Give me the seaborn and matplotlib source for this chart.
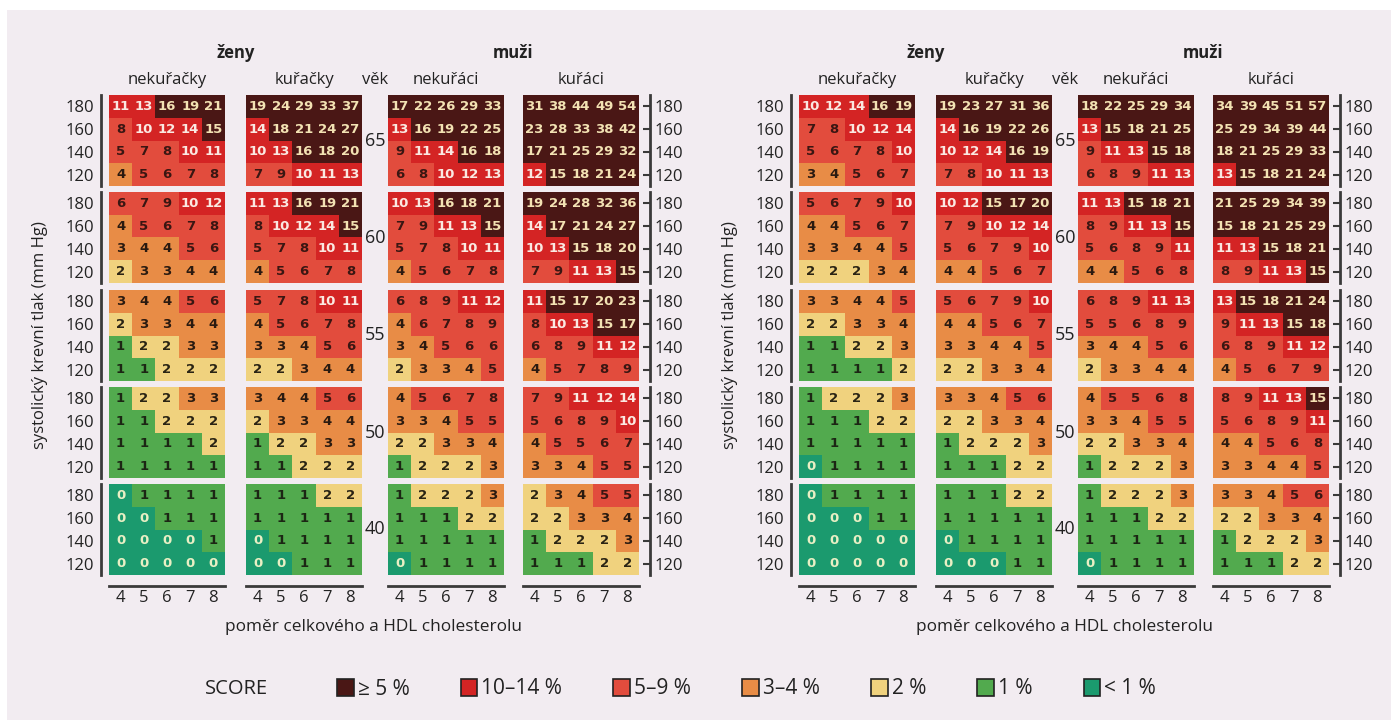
import matplotlib
matplotlib.use('Agg')
import matplotlib.pyplot as plt
from matplotlib.colors import ListedColormap, BoundaryNorm
from matplotlib.patches import Patch, Rectangle
import numpy as np
import pandas as pd
import seaborn as sns

# ---- data (rows: age 65, 60, 55, 50, 40 x systolic 180, 160, 140, 120) ----
ages = [65, 60, 55, 50, 40]
bp_labels = [180, 160, 140, 120]
ratio_labels = [4, 5, 6, 7, 8]
groups = ['nekuřačky', 'kuřačky', 'nekuřáci', 'kuřáci']

left_f_ns = [
    [11, 13, 16, 19, 21], [8, 10, 12, 14, 15], [5, 7, 8, 10, 11], [4, 5, 6, 7, 8],
    [6, 7, 9, 10, 12], [4, 5, 6, 7, 8], [3, 4, 4, 5, 6], [2, 3, 3, 4, 4],
    [3, 4, 4, 5, 6], [2, 3, 3, 4, 4], [1, 2, 2, 3, 3], [1, 1, 2, 2, 2],
    [1, 2, 2, 3, 3], [1, 1, 2, 2, 2], [1, 1, 1, 1, 2], [1, 1, 1, 1, 1],
    [0, 1, 1, 1, 1], [0, 0, 1, 1, 1], [0, 0, 0, 0, 1], [0, 0, 0, 0, 0],
]
left_f_s = [
    [19, 24, 29, 33, 37], [14, 18, 21, 24, 27], [10, 13, 16, 18, 20], [7, 9, 10, 11, 13],
    [11, 13, 16, 19, 21], [8, 10, 12, 14, 15], [5, 7, 8, 10, 11], [4, 5, 6, 7, 8],
    [5, 7, 8, 10, 11], [4, 5, 6, 7, 8], [3, 3, 4, 5, 6], [2, 2, 3, 4, 4],
    [3, 4, 4, 5, 6], [2, 3, 3, 4, 4], [1, 2, 2, 3, 3], [1, 1, 2, 2, 2],
    [1, 1, 1, 2, 2], [1, 1, 1, 1, 1], [0, 1, 1, 1, 1], [0, 0, 1, 1, 1],
]
left_m_ns = [
    [17, 22, 26, 29, 33], [13, 16, 19, 22, 25], [9, 11, 14, 16, 18], [6, 8, 10, 12, 13],
    [10, 13, 16, 18, 21], [7, 9, 11, 13, 15], [5, 7, 8, 10, 11], [4, 5, 6, 7, 8],
    [6, 8, 9, 11, 12], [4, 6, 7, 8, 9], [3, 4, 5, 6, 6], [2, 3, 3, 4, 5],
    [4, 5, 6, 7, 8], [3, 3, 4, 5, 5], [2, 2, 3, 3, 4], [1, 2, 2, 2, 3],
    [1, 2, 2, 2, 3], [1, 1, 1, 2, 2], [1, 1, 1, 1, 1], [0, 1, 1, 1, 1],
]
left_m_s = [
    [31, 38, 44, 49, 54], [23, 28, 33, 38, 42], [17, 21, 25, 29, 32], [12, 15, 18, 21, 24],
    [19, 24, 28, 32, 36], [14, 17, 21, 24, 27], [10, 13, 15, 18, 20], [7, 9, 11, 13, 15],
    [11, 15, 17, 20, 23], [8, 10, 13, 15, 17], [6, 8, 9, 11, 12], [4, 5, 7, 8, 9],
    [7, 9, 11, 12, 14], [5, 6, 8, 9, 10], [4, 5, 5, 6, 7], [3, 3, 4, 5, 5],
    [2, 3, 4, 5, 5], [2, 2, 3, 3, 4], [1, 2, 2, 2, 3], [1, 1, 1, 2, 2],
]

right_f_ns = [
    [10, 12, 14, 16, 19], [7, 8, 10, 12, 14], [5, 6, 7, 8, 10], [3, 4, 5, 6, 7],
    [5, 6, 7, 9, 10], [4, 4, 5, 6, 7], [3, 3, 4, 4, 5], [2, 2, 2, 3, 4],
    [3, 3, 4, 4, 5], [2, 2, 3, 3, 4], [1, 1, 2, 2, 3], [1, 1, 1, 1, 2],
    [1, 2, 2, 2, 3], [1, 1, 1, 2, 2], [1, 1, 1, 1, 1], [0, 1, 1, 1, 1],
    [0, 1, 1, 1, 1], [0, 0, 0, 1, 1], [0, 0, 0, 0, 0], [0, 0, 0, 0, 0],
]
right_f_s = [
    [19, 23, 27, 31, 36], [14, 16, 19, 22, 26], [10, 12, 14, 16, 19], [7, 8, 10, 11, 13],
    [10, 12, 15, 17, 20], [7, 9, 10, 12, 14], [5, 6, 7, 9, 10], [4, 4, 5, 6, 7],
    [5, 6, 7, 9, 10], [4, 4, 5, 6, 7], [3, 3, 4, 4, 5], [2, 2, 3, 3, 4],
    [3, 3, 4, 5, 6], [2, 2, 3, 3, 4], [1, 2, 2, 2, 3], [1, 1, 1, 2, 2],
    [1, 1, 1, 2, 2], [1, 1, 1, 1, 1], [0, 1, 1, 1, 1], [0, 0, 0, 1, 1],
]
right_m_ns = [
    [18, 22, 25, 29, 34], [13, 15, 18, 21, 25], [9, 11, 13, 15, 18], [6, 8, 9, 11, 13],
    [11, 13, 15, 18, 21], [8, 9, 11, 13, 15], [5, 6, 8, 9, 11], [4, 4, 5, 6, 8],
    [6, 8, 9, 11, 13], [5, 5, 6, 8, 9], [3, 4, 4, 5, 6], [2, 3, 3, 4, 4],
    [4, 5, 5, 6, 8], [3, 3, 4, 5, 5], [2, 2, 3, 3, 4], [1, 2, 2, 2, 3],
    [1, 2, 2, 2, 3], [1, 1, 1, 2, 2], [1, 1, 1, 1, 1], [0, 1, 1, 1, 1],
]
right_m_s = [
    [34, 39, 45, 51, 57], [25, 29, 34, 39, 44], [18, 21, 25, 29, 33], [13, 15, 18, 21, 24],
    [21, 25, 29, 34, 39], [15, 18, 21, 25, 29], [11, 13, 15, 18, 21], [8, 9, 11, 13, 15],
    [13, 15, 18, 21, 24], [9, 11, 13, 15, 18], [6, 8, 9, 11, 12], [4, 5, 6, 7, 9],
    [8, 9, 11, 13, 15], [5, 6, 8, 9, 11], [4, 4, 5, 6, 8], [3, 3, 4, 4, 5],
    [3, 3, 4, 5, 6], [2, 2, 3, 3, 4], [1, 2, 2, 2, 3], [1, 1, 1, 2, 2],
]

legend_labels = ['≥ 5 %', '10–14 %', '5–9 %', '3–4 %', '2 %', '1 %', '< 1 %']

# ---- style ----
# order: <1, 1, 2, 3-4, 5-9, 10-14, >=15
cell_colors = ['#1b9a6e', '#52aa4e', '#f0d27e', '#e88c46', '#e24c3d', '#d42424', '#4a1715']
text_colors = ['#e9efc4', '#1c2614', '#2a2414', '#2a1a10', '#3a1612', '#fbe9e2', '#f3e2b3']
bounds = [-0.5, 0.5, 1.5, 2.5, 4.5, 9.5, 14.5, 100]
cmap = ListedColormap(cell_colors)
norm = BoundaryNorm(bounds, cmap.N)
BG = '#f2ecf1'
AX = '#3a3a3a'

sns.set_style('white')
plt.rcParams['font.family'] = ['Open Sans', 'DejaVu Sans']

W, H = 1391, 720
fig = plt.figure(figsize=(W / 100, H / 100), dpi=100, facecolor='white')
fig.patches.append(Rectangle((7 / W, 0), 1, 1 - 10 / H, transform=fig.transFigure,
                             facecolor=BG, edgecolor='none', zorder=-10))


def px_axes(x, y, w, h):
    return fig.add_axes([x / W, 1 - (y + h) / H, w / W, h / H])


def category(v):
    return int(np.searchsorted(bounds, v) - 1)


row_tops = [95, 192, 290, 387, 484]
pw, ph = 116, 91

charts = [
    ([left_f_ns, left_f_s, left_m_ns, left_m_s], [109, 246, 388, 523], 40),
    ([right_f_ns, right_f_s, right_m_ns, right_m_s], [799, 936, 1078, 1213], 730),
]

for data, xl, ylab_x in charts:
    for a, age in enumerate(ages):
        top = row_tops[a]
        for g in range(4):
            ax = px_axes(xl[g], top, pw, ph)
            block = np.array(data[g][a * 4:(a + 1) * 4])
            df = pd.DataFrame(block, index=bp_labels, columns=ratio_labels)
            sns.heatmap(df, ax=ax, cmap=cmap, norm=norm, cbar=False, annot=True, fmt='d',
                        annot_kws={'fontsize': 9.5, 'fontweight': 'bold', 'family': 'DejaVu Sans'},
                        xticklabels=True, yticklabels=True)
            for t in ax.texts:
                t.set_color(text_colors[category(int(t.get_text()))])
            ax.set_xlabel('')
            ax.set_ylabel('')
            for s in ax.spines.values():
                s.set_visible(False)

            # y axis
            if g == 0:
                ax.spines['left'].set_visible(True)
                ax.spines['left'].set_position(('outward', 6))
                ax.spines['left'].set_linewidth(2)
                ax.spines['left'].set_color(AX)
                ax.set_yticklabels(bp_labels, rotation=0)
                ax.tick_params(axis='y', direction='in', length=5, width=1.5, color=AX,
                               labelsize=12, labelcolor='#222222', pad=5)
            elif g == 3:
                ax.spines['right'].set_visible(True)
                ax.spines['right'].set_position(('outward', 8))
                ax.spines['right'].set_linewidth(2)
                ax.spines['right'].set_color(AX)
                ax.yaxis.tick_right()
                ax.set_yticklabels(bp_labels, rotation=0)
                ax.tick_params(axis='y', direction='in', length=5, width=1.5, color=AX,
                               labelsize=12, labelcolor='#222222', pad=3)
            else:
                ax.tick_params(axis='y', left=False, labelleft=False)

            # x axis
            if a == len(ages) - 1:
                ax.spines['bottom'].set_visible(True)
                ax.spines['bottom'].set_position(('outward', 8))
                ax.spines['bottom'].set_linewidth(2)
                ax.spines['bottom'].set_color(AX)
                ax.set_xticklabels(ratio_labels, rotation=0)
                ax.tick_params(axis='x', direction='in', length=5, width=1.5, color=AX,
                               labelsize=12, labelcolor='#222222', pad=3)
            else:
                ax.tick_params(axis='x', bottom=False, labelbottom=False)

        # age label between women and men
        age_x = (xl[1] + pw + xl[2]) / 2
        fig.text(age_x / W, 1 - (top + ph / 2) / H, str(age), ha='center', va='center',
                 fontsize=13, color='#222222')

    # headers
    mid = [x + pw / 2 for x in xl]
    for g in range(4):
        fig.text(mid[g] / W, 1 - 80 / H, groups[g], ha='center', va='center',
                 fontsize=12, color='#222222')
    fig.text((xl[1] + pw + xl[2]) / 2 / W, 1 - 80 / H, 'věk', ha='center', va='center',
             fontsize=12, color='#222222')
    fig.text((xl[0] + xl[1] + pw) / 2 / W, 1 - 53 / H, 'ženy', ha='center', va='center',
             fontsize=12, fontweight='bold', color='#222222')
    fig.text((xl[2] + xl[3] + pw) / 2 / W, 1 - 53 / H, 'muži', ha='center', va='center',
             fontsize=12, fontweight='bold', color='#222222')
    fig.text(ylab_x / W, 1 - 335 / H, 'systolický krevní tlak (mm Hg)', rotation=90,
             ha='center', va='center', fontsize=12, color='#222222')
    fig.text((xl[0] + xl[3] + pw) / 2 / W, 1 - 627 / H, 'poměr celkového a HDL cholesterolu',
             ha='center', va='center', fontsize=12.4, color='#222222')

# legend
fig.text(205 / W, 1 - 689 / H, 'SCORE', ha='left', va='center', fontsize=14.5, color='#222222')
handles = [Patch(facecolor=c, edgecolor='#222222', linewidth=1.2) for c in cell_colors[::-1]]
fig.legend(handles, legend_labels, loc='center left', bbox_to_anchor=(337 / W, 1 - 689 / H),
           ncol=7, frameon=False, fontsize=15, handlelength=0.8, handleheight=0.9,
           handletextpad=0.2, columnspacing=2.45, borderpad=0, borderaxespad=0,
           labelcolor='#222222')

fig.savefig('out.png', dpi=100, facecolor=fig.get_facecolor())
